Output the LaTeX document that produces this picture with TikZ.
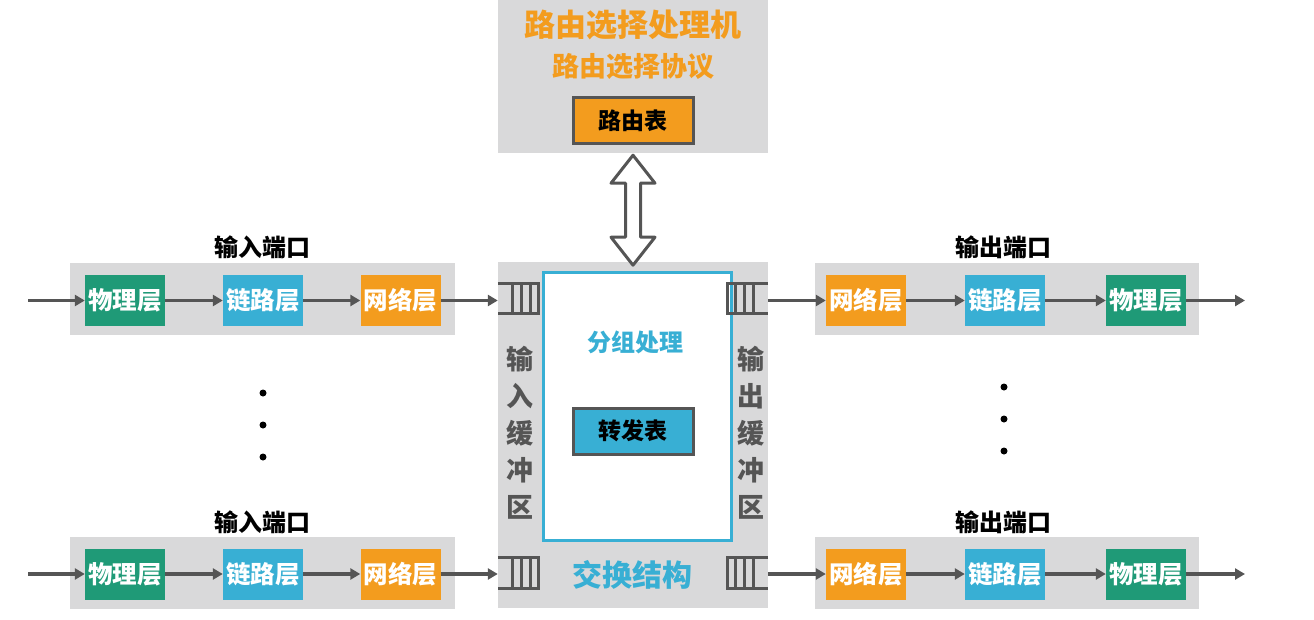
\documentclass[tikz,border=0pt]{standalone}
\usepackage{fontspec}
\newfontfamily\cjk{Noto Sans CJK SC}
\usetikzlibrary{calc,arrows.meta}
\definecolor{bggrey}{HTML}{D9D9DA}
\definecolor{dkgrey}{HTML}{555555}
\definecolor{lgreen}{HTML}{1F9A77}
\definecolor{lcyan}{HTML}{38AFD4}
\definecolor{lorange}{HTML}{F39C1E}
\tikzset{
  panel/.style={fill=bggrey, inner sep=0pt},
  layer/.style={inner sep=0pt, minimum width=80pt, minimum height=51pt, text=white, font=\cjk\bfseries\fontsize{24.5}{24.5}\selectfont},
  phys/.style={layer, fill=lgreen},
  link/.style={layer, fill=lcyan},
  netw/.style={layer, fill=lorange},
  portlabel/.style={font=\cjk\bfseries\fontsize{24}{24}\selectfont, text=black},
  flow/.style={draw=dkgrey, line width=3.5pt, -{Triangle[length=10pt,width=11pt]}},
  bufnode/.style={inner sep=0pt, minimum width=40pt, minimum height=30pt},
  bufline/.style={draw=dkgrey, line width=3pt},
  tablebox/.style={draw=dkgrey, line width=3pt, inner sep=0pt, minimum width=120pt, minimum height=46pt, font=\cjk\bfseries\fontsize{23}{23}\selectfont, text=black},
  vtext/.style={align=center, text=dkgrey, font=\cjk\bfseries\fontsize{27}{37}\selectfont},
  dot/.style={circle, fill=black, inner sep=0pt, minimum size=7pt},
  dblarrow/.style={draw=dkgrey, fill=white, line width=3pt, line join=round}
}
\begin{document}
\begin{tikzpicture}[x=1pt,y=-1pt]
\useasboundingbox (0,0) rectangle (1314,619);
% routing processor
\node[panel, minimum width=270pt, minimum height=153pt] (rp) at (633,76.5) {};
\node[font=\cjk\bfseries\fontsize{31}{31}\selectfont, text=lorange] (rptitle) at (633,25) {路由选择处理机};
\node[font=\cjk\bfseries\fontsize{27}{27}\selectfont, text=lorange] (rpproto) at (633,66) {路由选择协议};
\node[tablebox, fill=lorange] (rtable) at (633,120.5) {路由表};
% switching fabric
\node[panel, minimum width=270pt, minimum height=346pt] (sw) at (633,435) {};
\node[draw=lcyan, fill=white, line width=3pt, inner sep=0pt, minimum width=188pt, minimum height=268pt] (proc) at (637,406.5) {};
\node[font=\cjk\bfseries\fontsize{24}{24}\selectfont, text=lcyan] (proclabel) at (635,342) {分组处理};
\node[tablebox, fill=lcyan] (ftable) at (633,431) {转发表};
\node[font=\cjk\bfseries\fontsize{30}{30}\selectfont, text=lcyan] (swlabel) at (632,575) {交换结构};
\node[vtext] (inbuflabel) at (520,433) {输\\入\\缓\\冲\\区};
\node[vtext] (outbuflabel) at (751,433) {输\\出\\缓\\冲\\区};
% double arrow
\draw[dblarrow] ($(rp.south)+(0,2)$) -- ++(22,28) -- ++(-14.5,0) -- ++(0,54) -- ++(14.5,0)
  -- ++(-22,28) -- ++(-22,-28) -- ++(14.5,0) -- ++(0,-54) -- ++(-14.5,0) -- cycle;
% buffers
\foreach \n/\y in {inbA/298.5, inbB/573}{
  \node[bufnode] (\n) at (518,\y) {};
  \draw[bufline] (\n.north west) -- (\n.north east) -- (\n.south east) -- (\n.south west);
  \foreach \f in {0.375,0.59,0.8}{
    \draw[bufline] ($(\n.north west)!\f!(\n.north east)$) -- ($(\n.south west)!\f!(\n.south east)$);
  }
}
\foreach \n/\y in {outbA/298.5, outbB/573}{
  \node[bufnode] (\n) at (748,\y) {};
  \draw[bufline] (\n.north east) -- (\n.north west) -- (\n.south west) -- (\n.south east);
  \foreach \f in {0.375,0.59,0.8}{
    \draw[bufline] ($(\n.north east)!\f!(\n.north west)$) -- ($(\n.south east)!\f!(\n.south west)$);
  }
}
% input and output ports
\foreach \s/\y/\ly in {A/300.5/247, B/574/522}{
  \node[panel, minimum width=385pt, minimum height=72pt] (inport\s) at (262.5,\y-1.5) {};
  \node[portlabel] (inlabel\s) at (262.5,\ly) {输入端口};
  \node[phys] (inphy\s) at (125,\y) {物理层};
  \node[link] (inlink\s) at (263,\y) {链路层};
  \node[netw] (innet\s) at (400.5,\y) {网络层};
  \coordinate (insrc\s) at (28,\y);
  \draw[flow] (insrc\s) -- (inphy\s);
  \draw[flow] (inphy\s) -- (inlink\s);
  \draw[flow] (inlink\s) -- (innet\s);
  \draw[flow] (innet\s) -- (innet\s -| inb\s.west);
  \node[panel, minimum width=384pt, minimum height=72pt] (outport\s) at (1007,\y-1.5) {};
  \node[portlabel] (outlabel\s) at (1003,\ly) {输出端口};
  \node[netw] (outnet\s) at (866,\y) {网络层};
  \node[link] (outlink\s) at (1005,\y) {链路层};
  \node[phys] (outphy\s) at (1146,\y) {物理层};
  \coordinate (outdst\s) at (1245,\y);
  \draw[flow] (outnet\s -| outb\s.east) -- (outnet\s);
  \draw[flow] (outnet\s) -- (outlink\s);
  \draw[flow] (outlink\s) -- (outphy\s);
  \draw[flow] (outphy\s) -- (outdst\s);
}
% dots
\node[dot] (ld1) at (263,393) {};
\node[dot] (ld2) at (263,425) {};
\node[dot] (ld3) at (263,457) {};
\node[dot] (rd1) at (1004,387) {};
\node[dot] (rd2) at (1004,419) {};
\node[dot] (rd3) at (1004,451) {};
\end{tikzpicture}
\end{document}
